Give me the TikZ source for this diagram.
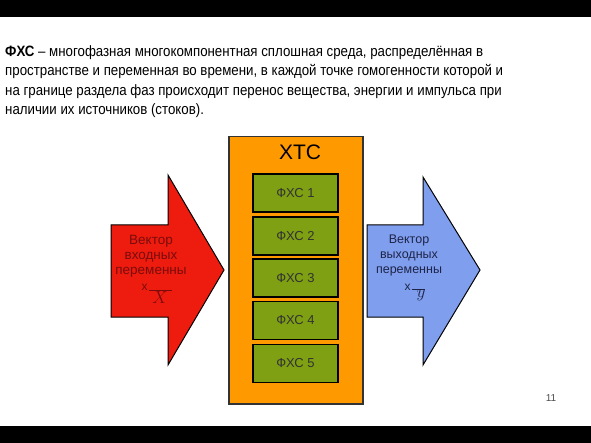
\documentclass[tikz,border=0pt]{standalone}
\usepackage{fontspec}
\setmainfont{Liberation Sans}
\newfontfamily\headfont[FakeStretch=0.885]{Liberation Sans}
\definecolor{redfill}{HTML}{EE1C0E}
\definecolor{bluefill}{HTML}{7F9EEE}
\definecolor{orangefill}{HTML}{FF9900}
\definecolor{greenfill}{HTML}{7EA012}
\definecolor{redtext}{HTML}{7A0C0C}
\definecolor{bluetext}{HTML}{1E2448}
\tikzset{
  arrowshape/.style={draw=black, line width=1pt, line join=miter},
  fxsbox/.style={draw=black, line width=1.2pt, fill=greenfill, minimum width=85pt, minimum height=38pt, inner sep=0pt, font=\fontsize{13}{15}\selectfont, text=black!80},
  arrowtext/.style={align=center, inner sep=0pt},
}
\begin{document}
\begin{tikzpicture}[x=1pt,y=-1pt]
\useasboundingbox (0,0) rectangle (591,443);
\fill[white] (0,0) rectangle (591,443);
\fill[black] (0,0) rectangle (591,17);
\fill[black] (0,426) rectangle (591,443);
% heading
\node[anchor=north west, inner sep=0pt, align=left, font=\headfont\fontsize{15}{19.3}\selectfont] (head) at (5,45.5)
{\textbf{ФХС} – многофазная многокомпонентная сплошная среда, распределённая в\\
пространстве и переменная во времени, в каждой точке гомогенности которой и\\
на границе раздела фаз происходит перенос вещества, энергии и импульса при\\
наличии их источников (стоков).};
% orange box
\node[draw=black!80, line width=1.5pt, fill=orangefill, minimum width=134pt, minimum height=267pt, inner sep=0pt, anchor=north west] (xtc) at (228,136) {};
\node[font=\fontsize{21}{24}\selectfont, inner sep=0pt] (xtclabel) at (300,152) {ХТС};
% green boxes
\node[fxsbox] (f1) at (295.5,193) {ФХС 1};
\node[fxsbox] (f2) at (295.5,236) {ФХС 2};
\node[fxsbox] (f3) at (295.5,278) {ФХС 3};
\node[fxsbox] (f4) at (295.5,320.5) {ФХС 4};
\node[fxsbox] (f5) at (295.5,363.5) {ФХС 5};
% red arrow
\draw[arrowshape, fill=redfill] (111,225) -- (168,225) -- (168,175) -- (224,270) -- (168,365) -- (168,317) -- (111,317) -- cycle;
\node[arrowtext, text=redtext, anchor=north, font=\fontsize{13.5}{15}\selectfont] (intext) at (151,235) {Вектор\\входных\\переменны};
\node[inner sep=0pt, text=redtext, font=\fontsize{12}{13}\selectfont] (inx) at (144.5,287) {х};
\draw[redtext, line width=0.8pt] (inx.east |- 0,290) ++(1.5,0) -- (172,290);
\node[inner sep=0pt, text=redtext, font=\fontsize{18}{18}\selectfont, anchor=north] (inX) at (160,291) {$X$};
% blue arrow
\draw[arrowshape, fill=bluefill] (367,225) -- (423,225) -- (423,177) -- (480,270) -- (423,365) -- (423,317) -- (367,317) -- cycle;
\node[arrowtext, text=bluetext, anchor=north, font=\fontsize{12.5}{15}\selectfont] (outtext) at (409,235) {Вектор\\выходных\\переменны};
\node[inner sep=0pt, text=bluetext, font=\fontsize{12}{13}\selectfont] (outx) at (407.5,287) {х};
\draw[bluetext, line width=0.8pt] (outx.east |- 0,289) ++(1.5,0) -- (425,289);
\node[inner sep=0pt, text=bluetext, font=\fontsize{18}{18}\selectfont, anchor=north] (outy) at (421,290) {$y$};
% page number
\node[inner sep=0pt, font=\fontsize{10}{11}\selectfont, text=black!70] (pnum) at (551,398) {11};
\end{tikzpicture}
\end{document}
